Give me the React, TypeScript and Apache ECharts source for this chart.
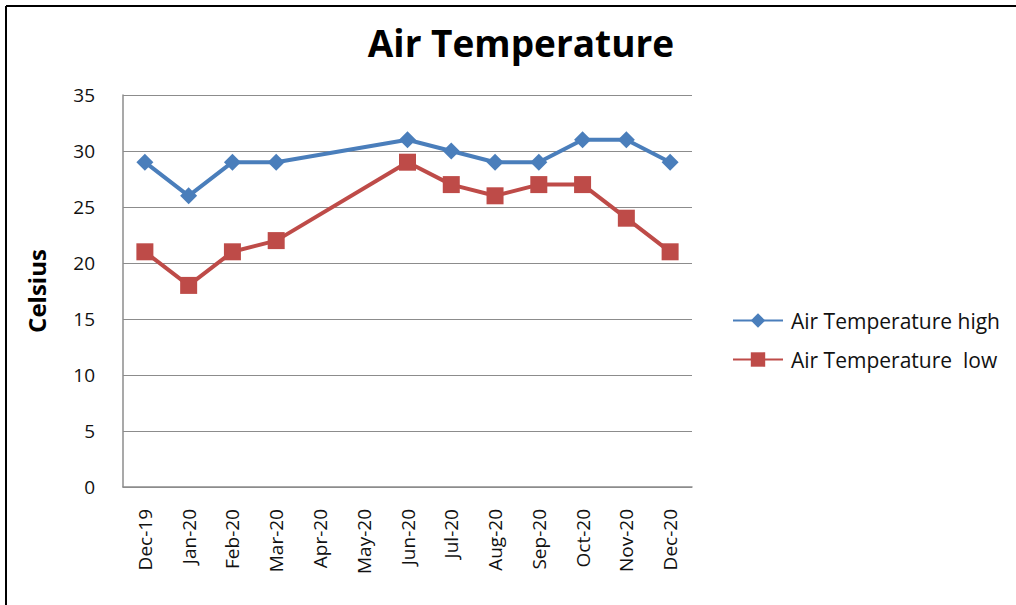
import React, { useEffect, useRef } from "react";
import * as echarts from "echarts";

const months = ["Dec-19", "Jan-20", "Feb-20", "Mar-20", "Apr-20", "May-20", "Jun-20", "Jul-20", "Aug-20", "Sep-20", "Oct-20", "Nov-20", "Dec-20"];
const highValues = [29, 26, 29, 29, null, null, 31, 30, 29, 29, 31, 31, 29];
const lowValues = [21, 18, 21, 22, null, null, 29, 27, 26, 27, 27, 24, 21];
const seriesNames = ["Air Temperature high", "Air Temperature  low"];

export default function App() {
  const ref = useRef<HTMLDivElement>(null);
  useEffect(() => {
    document.body.style.margin = "0";
    const chart = echarts.init(ref.current!, null, { renderer: "svg" });
    const font = "'Open Sans', 'Noto Sans', sans-serif";
    chart.setOption({
      animation: false,
      backgroundColor: "#ffffff",
      title: {
        text: "Air Temperature",
        left: 516,
        textAlign: "center",
        top: 19,
        textStyle: { fontFamily: font, fontWeight: "bold", fontSize: 37, color: "#000" },
      },
      legend: {
        orient: "vertical",
        left: 732,
        top: 310,
        padding: 0,
        itemWidth: 50,
        itemHeight: 18,
        itemGap: 18,
        textStyle: { fontFamily: font, fontSize: 21, color: "#111", padding: [0, 0, 0, 3] },
        data: seriesNames,
      },
      grid: { left: 123, right: 324, top: 95, bottom: 118, containLabel: false },
      xAxis: {
        type: "category",
        data: months,
        boundaryGap: true,
        axisLine: { show: true, lineStyle: { color: "#8c8c8c", width: 1.5 } },
        axisTick: { show: false },
        axisLabel: { rotate: 90, margin: 22, fontFamily: font, fontSize: 19, color: "#111", interval: 0 },
        splitLine: { show: false },
      },
      yAxis: {
        type: "value",
        min: 0,
        max: 35,
        interval: 5,
        name: "Celsius",
        nameLocation: "middle",
        nameRotate: 90,
        nameGap: 75,
        nameTextStyle: { fontFamily: font, fontWeight: "bold", fontSize: 24, color: "#000" },
        axisLine: { show: true, lineStyle: { color: "#8c8c8c", width: 1.5 } },
        axisTick: { show: false },
        axisLabel: { margin: 28, fontFamily: font, fontSize: 19, color: "#111" },
        splitLine: { show: true, lineStyle: { color: "#8c8c8c", width: 1 } },
      },
      series: [
        {
          name: seriesNames[0],
          type: "line",
          data: highValues,
          connectNulls: true,
          symbol: "diamond",
          symbolSize: 17,
          lineStyle: { color: "#4a7ebb", width: 4 },
          itemStyle: { color: "#4a7ebb" },
        },
        {
          name: seriesNames[1],
          type: "line",
          data: lowValues,
          connectNulls: true,
          symbol: "rect",
          symbolSize: 17,
          lineStyle: { color: "#be4b48", width: 4 },
          itemStyle: { color: "#be4b48" },
        },
      ],
      graphic: [
        { type: "line", shape: { x1: 6, y1: 6, x2: 1016, y2: 6 }, style: { stroke: "#000", lineWidth: 2 } },
        { type: "line", shape: { x1: 6, y1: 6, x2: 6, y2: 605 }, style: { stroke: "#000", lineWidth: 2 } },
      ],
    });
    return () => chart.dispose();
  }, []);
  return <div ref={ref} style={{ position: "absolute", left: 0, top: 0, width: 1016, height: 605 }} />;
}
